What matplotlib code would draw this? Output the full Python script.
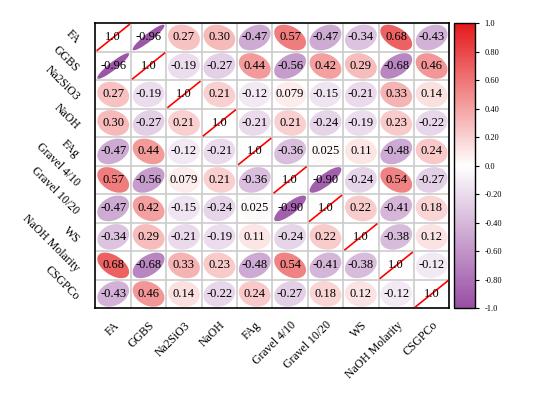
import matplotlib
matplotlib.use('Agg')
import matplotlib.pyplot as plt
import numpy as np
from matplotlib.patches import Ellipse
from matplotlib.colors import LinearSegmentedColormap, Normalize
from matplotlib.colorbar import ColorbarBase

plt.rcParams['font.family'] = ['Liberation Serif', 'DejaVu Serif']

labels = ['FA', 'GGBS', 'Na2SiO3', 'NaOH', 'FAg', 'Gravel 4/10',
          'Gravel 10/20', 'WS', 'NaOH Molarity', 'CSGPCo']

corr = [
    [1.0, -0.96, 0.27, 0.30, -0.47, 0.57, -0.47, -0.34, 0.68, -0.43],
    [-0.96, 1.0, -0.19, -0.27, 0.44, -0.56, 0.42, 0.29, -0.68, 0.46],
    [0.27, -0.19, 1.0, 0.21, -0.12, 0.079, -0.15, -0.21, 0.33, 0.14],
    [0.30, -0.27, 0.21, 1.0, -0.21, 0.21, -0.24, -0.19, 0.23, -0.22],
    [-0.47, 0.44, -0.12, -0.21, 1.0, -0.36, 0.025, 0.11, -0.48, 0.24],
    [0.57, -0.56, 0.079, 0.21, -0.36, 1.0, -0.90, -0.24, 0.54, -0.27],
    [-0.47, 0.42, -0.15, -0.24, 0.025, -0.90, 1.0, 0.22, -0.41, 0.18],
    [-0.34, 0.29, -0.21, -0.19, 0.11, -0.24, 0.22, 1.0, -0.38, 0.12],
    [0.68, -0.68, 0.33, 0.23, -0.48, 0.54, -0.41, -0.38, 1.0, -0.12],
    [-0.43, 0.46, 0.14, -0.22, 0.24, -0.27, 0.18, 0.12, -0.12, 1.0],
]
cbar_ticks = [1.0, 0.8, 0.6, 0.4, 0.2, 0.0, -0.2, -0.4, -0.6, -0.8, -1.0]

cmap = LinearSegmentedColormap.from_list('pw', ['#984EA3', '#FFFFFF', '#E41A1C'])
norm = Normalize(-1, 1)

fig = plt.figure(figsize=(5.52, 3.94), dpi=100)
ax = fig.add_axes([0.173, 0.218, 0.641, 0.723])
n = len(labels)
M = np.array(corr)

R = 0.9 / np.sqrt(2)
for i in range(n):
    for j in range(n):
        r = M[i, j]
        if i == j:
            ax.plot([j - 0.45, j + 0.45], [i + 0.45, i - 0.45], color='red', lw=1.2, zorder=3)
            txt = '1.0'
        else:
            k = np.sqrt(1 - abs(r))
            a = R / np.sqrt(1 + k * k)
            ang = 45 if r > 0 else -45
            e = Ellipse((j, i), width=2 * a, height=2 * a * k,
                        angle=ang, facecolor=cmap(norm(r)), edgecolor='none', zorder=2)
            ax.add_patch(e)
            txt = '%#.2g' % r
        ax.text(j, i, txt, ha='center', va='center', fontsize=9, zorder=4)

# grid
for k in range(1, n):
    ax.axhline(k - 0.5, color='#cccccc', lw=1.2, zorder=1)
    ax.axvline(k - 0.5, color='#cccccc', lw=1.2, zorder=1)

ax.set_xlim(-0.5, n - 0.5)
ax.set_ylim(n - 0.5, -0.5)
ax.set_xticks(range(n))
ax.set_yticks(range(n))
ax.set_xticklabels(labels, rotation=45, ha='right', rotation_mode='anchor', fontsize=8.5)
ax.set_yticklabels(labels, rotation=-45, ha='right', va='top', rotation_mode='anchor', fontsize=8.5)
ax.tick_params(axis='x', length=0, pad=8)
ax.tick_params(axis='y', length=0, pad=10)
for s in ax.spines.values():
    s.set_linewidth(1.2)

cax = fig.add_axes([0.823, 0.218, 0.038, 0.723])
cb = ColorbarBase(cax, cmap=cmap, norm=norm, ticks=cbar_ticks)
cb.ax.set_yticklabels(['1.0', '0.80', '0.60', '0.40', '0.20', '0.0', '-0.20', '-0.40',
                       '-0.60', '-0.80', '-1.0'], fontsize=6)
cb.ax.tick_params(length=3, width=0.8)
cb.outline.set_linewidth(1.0)

fig.savefig('out.png', dpi=100)
